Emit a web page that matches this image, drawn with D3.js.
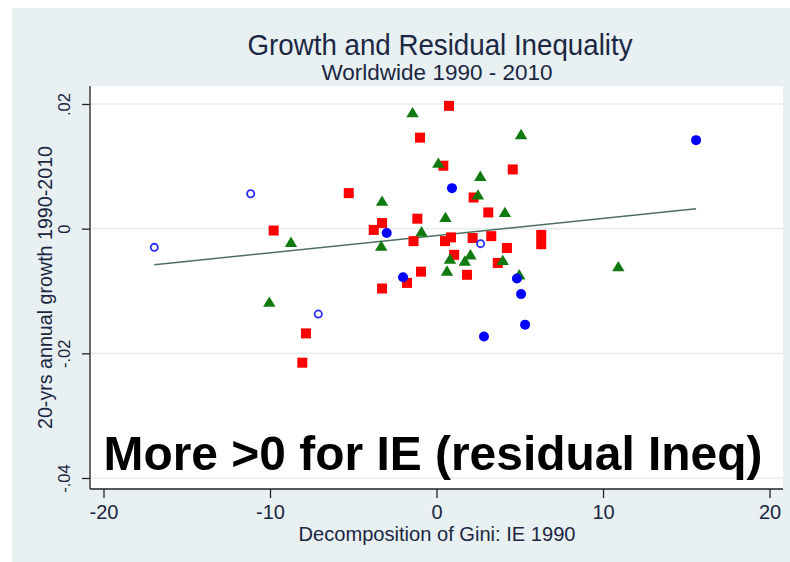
<!DOCTYPE html>
<html>
<head>
<meta charset="utf-8">
<script src="https://cdn.jsdelivr.net/npm/d3@7/dist/d3.min.js"></script>
<style>
  html, body { margin: 0; padding: 0; background: #ffffff; }
  svg { display: block; font-family: "Liberation Sans", Arial, sans-serif; }
</style>
</head>
<body>
<svg id="chart" width="790" height="562"></svg>
<script>
// Decomposition of Gini: IE 1990 (x) vs 20-yr annual growth 1990-2010 (y)
const squaresX = [0.75, -0.99, 0.41, -5.27, 4.58, 2.23, 3.11, -1.15, -3.27, -3.77, -9.78, -1.38, 0.51, 0.87, 2.17, 3.29, 6.29, 6.29, 4.23, 1.06, 3.68, -0.93, 1.83, -1.77, -3.27, -7.84, -8.06];
const squaresY = [0.0197, 0.0146, 0.0101, 0.0057, 0.0095, 0.0050, 0.0026, 0.0016, 0.0009, -0.0002, -0.0003, -0.0020, -0.0020, -0.0014, -0.0015, -0.0012, -0.0010, -0.0025, -0.0031, -0.0042, -0.0055, -0.0069, -0.0074, -0.0087, -0.0096, -0.0168, -0.0215];

const trianglesX = [-1.44, 5.08, 0.11, 2.63, 2.49, -3.27, 4.11, 0.54, -0.90, -8.74, -3.32, 2.04, 0.81, 1.70, 3.98, 0.63, 4.97, 10.92, -10.04];
const trianglesY = [0.0186, 0.0151, 0.0105, 0.0084, 0.0054, 0.0044, 0.0026, 0.0018, -0.0005, -0.0022, -0.0028, -0.0042, -0.0049, -0.0052, -0.0051, -0.0068, -0.0074, -0.0061, -0.0118];

const dotsX = [15.59, 0.93, -2.99, -2.01, 4.83, 5.08, 5.32, 2.85];
const dotsY = [0.0142, 0.0065, -0.0007, -0.0078, -0.0080, -0.0105, -0.0154, -0.0173];

const ringsX = [-16.95, -11.16, -7.10, 2.65];
const ringsY = [-0.0030, 0.0056, -0.0137, -0.0024];

// Fitted line endpoints
const fitX = [-16.95, 15.59];
const fitY = [-0.0058, 0.0032];

const xTicks = [-20, -10, 0, 10, 20];
const xTickLabels = ["-20", "-10", "0", "10", "20"];
const yTicks = [0.02, 0, -0.02, -0.04];
const yTickLabels = [".02", "0", "-.02", "-.04"];

const titleText = "Growth and Residual Inequality";
const subtitleText = "Worldwide 1990 - 2010";
const xTitle = "Decomposition of Gini: IE 1990";
const yTitle = "20-yrs annual growth 1990-2010";
const noteText = "More >0 for IE (residual Ineq)";

const textColor = "#1b2742";
const svg = d3.select("#chart");

// outer graph region
svg.append("rect").attr("x", 12).attr("y", 8).attr("width", 778).attr("height", 554)
  .attr("fill", "#e8f0f2");

const plot = { left: 90, right: 783, top: 86, bottom: 489 };
svg.append("rect").attr("x", plot.left).attr("y", plot.top)
  .attr("width", plot.right - plot.left).attr("height", plot.bottom - plot.top)
  .attr("fill", "#ffffff");

const x = d3.scaleLinear().domain([-20, 20]).range([103.5, 769.5]);
const y = d3.scaleLinear().domain([-0.04, 0.02]).range([478, 104]);

// horizontal grid
svg.append("g").selectAll("line").data(yTicks).join("line")
  .attr("x1", plot.left).attr("x2", plot.right)
  .attr("y1", d => y(d)).attr("y2", d => y(d))
  .attr("stroke", "#e6eef0").attr("stroke-width", 1.6);

// axes
const xAxis = d3.axisBottom(x).tickValues(xTicks).tickSize(9).tickSizeOuter(0)
  .tickFormat((d, i) => xTickLabels[i]);
const gx = svg.append("g").attr("transform", `translate(0,${plot.bottom})`).call(xAxis);
gx.select(".domain").attr("d", `M${plot.left},0H${plot.right}`).attr("stroke", "#222").attr("stroke-width", 1.3);
gx.selectAll(".tick line").attr("stroke", "#222").attr("stroke-width", 1.3);
gx.selectAll(".tick text").attr("font-size", 20).attr("fill", textColor)
  .attr("font-family", "Liberation Sans, Arial, sans-serif")
  .attr("y", 30).attr("dy", 0);

const yAxis = d3.axisLeft(y).tickValues(yTicks).tickSize(8).tickSizeOuter(0)
  .tickFormat((d, i) => yTickLabels[i]);
const gy = svg.append("g").attr("transform", `translate(${plot.left},0)`).call(yAxis);
gy.select(".domain").attr("d", `M0,${plot.top}V${plot.bottom}`).attr("stroke", "#222").attr("stroke-width", 1.3);
gy.selectAll(".tick line").attr("stroke", "#222").attr("stroke-width", 1.3);
gy.selectAll(".tick text").attr("font-size", 16.5).attr("fill", textColor)
  .attr("font-family", "Liberation Sans, Arial, sans-serif")
  .attr("text-anchor", "middle").attr("x", 0).attr("dy", 0)
  .attr("transform", "translate(-20,0) rotate(-90)");

// titles
svg.append("text").attr("x", 440).attr("y", 55).attr("text-anchor", "middle")
  .attr("font-size", 30).attr("fill", textColor)
  .attr("textLength", 385).attr("lengthAdjust", "spacingAndGlyphs").text(titleText);
svg.append("text").attr("x", 437).attr("y", 80).attr("text-anchor", "middle")
  .attr("font-size", 22).attr("fill", textColor)
  .attr("textLength", 231).attr("lengthAdjust", "spacingAndGlyphs").text(subtitleText);
svg.append("text").attr("x", 437).attr("y", 541).attr("text-anchor", "middle")
  .attr("font-size", 20).attr("fill", textColor)
  .attr("textLength", 277).attr("lengthAdjust", "spacingAndGlyphs").text(xTitle);
svg.append("text").attr("transform", `translate(52,${(plot.top + plot.bottom) / 2}) rotate(-90)`)
  .attr("text-anchor", "middle").attr("font-size", 20).attr("fill", textColor)
  .attr("textLength", 283).attr("lengthAdjust", "spacingAndGlyphs").text(yTitle);

// fitted line
svg.append("path")
  .datum(fitX.map((v, i) => [v, fitY[i]]))
  .attr("d", d3.line().x(d => x(d[0])).y(d => y(d[1])))
  .attr("fill", "none").attr("stroke", "#4f6e62").attr("stroke-width", 1.6);

// markers
const pts = (xs, ys) => xs.map((v, i) => ({ x: v, y: ys[i] }));

svg.append("g").selectAll("rect").data(pts(squaresX, squaresY)).join("rect")
  .attr("x", d => x(d.x) - 5).attr("y", d => y(d.y) - 5)
  .attr("width", 10).attr("height", 10).attr("fill", "#ff0000");

svg.append("g").selectAll("path").data(pts(trianglesX, trianglesY)).join("path")
  .attr("d", d => {
    const cx = x(d.x), cy = y(d.y);
    return `M${cx},${cy - 5.8}L${cx + 6.2},${cy + 4.6}L${cx - 6.2},${cy + 4.6}Z`;
  })
  .attr("fill", "#107a10");

svg.append("g").selectAll("circle").data(pts(dotsX, dotsY)).join("circle")
  .attr("cx", d => x(d.x)).attr("cy", d => y(d.y)).attr("r", 5)
  .attr("fill", "#0000ff");

svg.append("g").selectAll("circle").data(pts(ringsX, ringsY)).join("circle")
  .attr("cx", d => x(d.x)).attr("cy", d => y(d.y)).attr("r", 3.6)
  .attr("fill", "#ffffff").attr("stroke", "#2a2aff").attr("stroke-width", 1.8);

// annotation
svg.append("text").attr("x", 433).attr("y", 470).attr("text-anchor", "middle")
  .attr("font-size", 49).attr("font-weight", "bold").attr("fill", "#000000")
  .attr("textLength", 659).attr("lengthAdjust", "spacingAndGlyphs")
  .text(noteText);
</script>
</body>
</html>
